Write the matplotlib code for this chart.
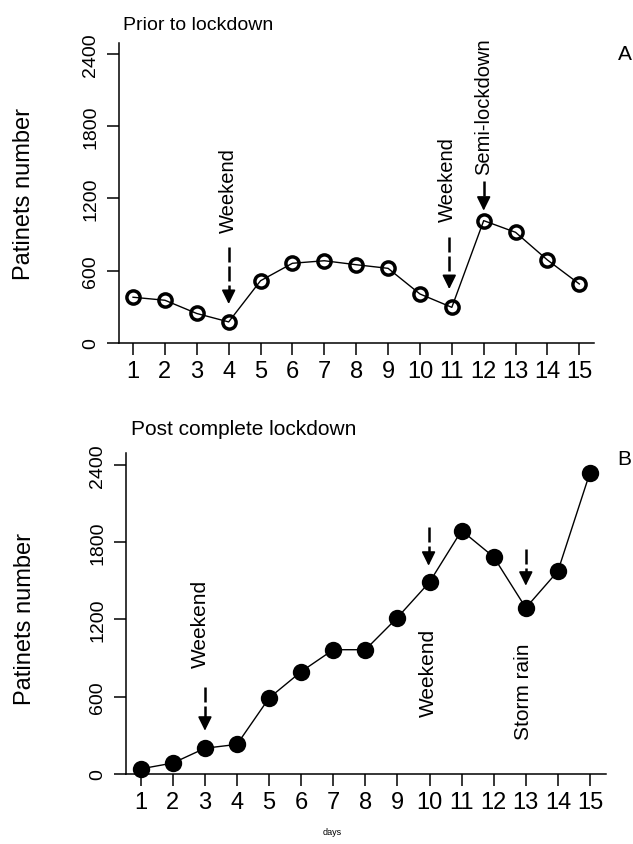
import matplotlib
matplotlib.use("Agg")
import matplotlib.pyplot as plt

plt.rcParams['font.family'] = ['Liberation Sans', 'DejaVu Sans']

# ---------------- data ----------------
days = list(range(1, 16))
prior_values = [380, 355, 245, 175, 517, 662, 683, 650, 620, 407, 296, 1016, 919, 689, 490]
post_values = [40, 85, 200, 230, 590, 795, 965, 965, 1215, 1490, 1890, 1685, 1290, 1575, 2340]
y_ticks = [0, 600, 1200, 1800, 2400]
y_tick_labels = ['0', '600', '1200', '1800', '2400']

# annotations: (x, arrow top, arrow tip, text, text x, text bottom)
prior_notes = [
    (4.0, 797, 324, 'Weekend', 4.0, 922),
    (10.92, 877, 448, 'Weekend', 10.87, 1016),
    (12.0, 1348, 1099, 'Semi-lockdown', 12.0, 1403),
]
post_notes = [
    (3.0, 673, 336, 'Weekend', 2.87, 828),
    (9.97, 1914, 1617, 'Weekend', 9.97, 453),
    (13.0, 1746, 1462, 'Storm rain', 12.93, 272),
]

W, H = 633, 845
fig = plt.figure(figsize=(W / 100, H / 100), dpi=100)


def axes_px(left, right, bottom, top):
    return fig.add_axes([left / W, (H - bottom) / H, (right - left) / W, (bottom - top) / H])


def style(ax, xlim, ylim):
    ax.set_xlim(*xlim)
    ax.set_ylim(*ylim)
    for s in ('top', 'right'):
        ax.spines[s].set_visible(False)
    for s in ('left', 'bottom'):
        ax.spines[s].set_linewidth(1.1)
    ax.set_xticks(days)
    ax.set_xticklabels([str(d) for d in days], fontsize=17)
    ax.set_yticks(y_ticks)
    ax.set_yticklabels(y_tick_labels, fontsize=14, rotation=90, va='center')
    ax.tick_params(axis='both', length=8.6, width=1.1, color='black')
    ax.tick_params(axis='x', pad=3.5)
    ax.tick_params(axis='y', pad=5.5)


def arrows(ax, notes, fs):
    p0 = ax.transData.transform((0, 0))[1]
    p1 = ax.transData.transform((0, 1000))[1]
    px_per_unit = (p1 - p0) / 1000.0
    head_px = 12
    for x, top, tip, txt, tx, tb in notes:
        base = tip + head_px / px_per_unit
        ax.plot([x, x], [top, base], color='black', lw=1.8,
                dashes=(6, 1.6), solid_capstyle='butt', clip_on=False, zorder=4)
        ax.annotate('', xy=(x, tip), xytext=(x, base),
                    arrowprops=dict(arrowstyle='-|>,head_length=0.85,head_width=0.42',
                                    mutation_scale=10, lw=1.2, color='black',
                                    shrinkA=0, shrinkB=0),
                    annotation_clip=False, zorder=5)
        ax.text(tx, tb, txt, rotation=90, ha='center', va='bottom', fontsize=fs)


# ---------------- panel A ----------------
axA = axes_px(119, 594, 344, 44)
style(axA, (0.56, 15.46), (0, 2491))
axA.plot(days, prior_values, color='black', lw=1.0, marker='o', ms=9.5,
         mfc='none', mec='black', mew=2.5, clip_on=False, zorder=3)
arrows(axA, prior_notes, 14.5)

# ---------------- panel B ----------------
axB = axes_px(126, 605.7, 775, 454.3)
style(axB, (0.54, 15.49), (0, 2490))
axB.plot(days, post_values, color='black', lw=1.0, marker='o', ms=11,
         mfc='black', mec='black', mew=1.5, clip_on=False, zorder=3)
arrows(axB, post_notes, 15)

# ---------------- texts ----------------
def ftext(x, y, s, **kw):
    fig.text(x / W, (H - y) / H, s, **kw)

ftext(123, 25, 'Prior to lockdown', fontsize=14, ha='left', va='center')
ftext(131, 430, 'Post complete lockdown', fontsize=15, ha='left', va='center')
ftext(624.5, 55, 'A', fontsize=15, ha='center', va='center')
ftext(624.5, 460, 'B', fontsize=15, ha='center', va='center')
ftext(24, 193.5, 'Patinets number', fontsize=17, rotation=90, ha='center', va='center')
ftext(25, 619, 'Patinets number', fontsize=17, rotation=90, ha='center', va='center')
ftext(332, 833, 'days', fontsize=6.5, ha='center', va='center')

fig.savefig('out.png', dpi=100)
